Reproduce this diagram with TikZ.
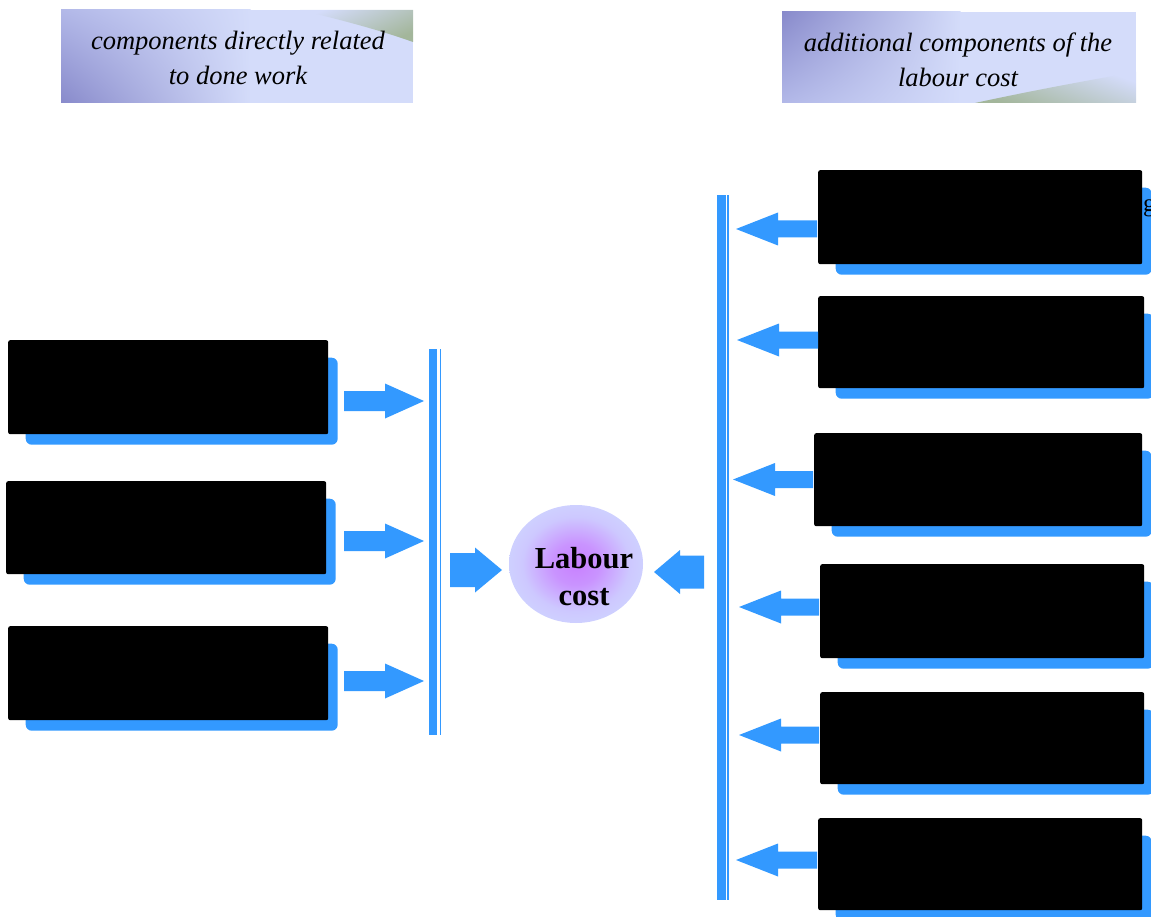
\documentclass[tikz,border=0pt]{standalone}
\usepackage{fontspec}
\setmainfont{Liberation Serif}
\usetikzlibrary{shapes.geometric,shadings}

\definecolor{flowblue}{RGB}{51,153,255}
\definecolor{hdark}{RGB}{136,138,203}
\definecolor{hmid}{RGB}{178,184,232}
\definecolor{hlight}{RGB}{212,220,250}
\definecolor{hgreen}{RGB}{163,182,155}
\definecolor{coreviolet}{RGB}{200,128,255}
\definecolor{rimlavender}{RGB}{206,208,255}

\pgfdeclareradialshading{coreglow}{\pgfpoint{0bp}{0bp}}{%
  color(0bp)=(coreviolet); color(9bp)=(coreviolet!75!rimlavender);
  color(20bp)=(rimlavender!90!coreviolet); color(25bp)=(rimlavender); color(50bp)=(rimlavender)}

% block arrow: tip x, y, direction (1 = right, -1 = left), head length, head half width, shaft length, shaft half width
\newcommand{\blockarrow}[7]{%
  \fill[flowblue] (#1,#2) -- ++({-(#3)*(#4)},{-(#5)}) -- ++(0,{(#5)-(#7)})
    -- ++({-(#3)*(#6)},0) -- ++(0,{2*(#7)}) -- ++({(#3)*(#6)},0)
    -- ++(0,{(#5)-(#7)}) -- cycle;}

% black panel with its blue offset backing
\newcommand{\panel}[5]{%
  \node[panelback, minimum width={#4-8}, minimum height={#5-7}] (#1b) at ({#2+17.5},{#3+17.5}) {};
  \node[panelbox, minimum width=#4, minimum height=#5] (#1) at (#2,#3) {};}

\begin{document}
\begin{tikzpicture}[x=1pt,y=-1pt,
  panelbox/.style={fill=black, rounded corners=2pt, anchor=north west, inner sep=0pt, draw=none},
  panelback/.style={fill=flowblue, rounded corners=6pt, anchor=north west, inner sep=0pt, draw=none},
  barthick/.style={fill=flowblue, anchor=north west, inner sep=0pt, minimum width=8pt},
  barthin/.style={fill=flowblue, anchor=north west, inner sep=0pt, minimum width=1.7pt},
  headertext/.style={font=\fontsize{26.5}{35.5}\selectfont\itshape, align=center, inner sep=0pt},
]
\useasboundingbox (0,0) rectangle (1151,917);

% left header banner: dark toward the lower left, green tint at the upper right
\fill[hlight] (250,10) rectangle (413,103);
\shade[upper left=hmid, lower left=hdark, upper right=hlight, lower right=hlight]
  (61,10) rectangle (250.5,103);
\shade[left color=hlight, right color=hgreen, shading angle=25]
  (300,10) .. controls (350,22) and (385,32) .. (413,42) -- (413,10) -- cycle;
\node[headertext] (hleft) at (238,58) {components directly related\\to done work};

% right header banner: dark toward the upper left, green tint at the lower right
\fill[hlight] (960,12) rectangle (1136,103);
\shade[upper left=hdark, lower left=hmid, upper right=hlight, lower right=hlight]
  (782,12) rectangle (960.5,103);
\shade[left color=hlight, right color=hgreen, shading angle=-20]
  (975,103) .. controls (1035,90) and (1090,80) .. (1136,72) -- (1136,103) -- cycle;
\node[headertext] (hright) at (958,60) {additional components of the\\labour cost};

% left column panels
\panel{l1}{8}{340}{320}{94}
\panel{l2}{6}{481}{320}{93}
\panel{l3}{8}{626}{320}{94}

% right column panels
\panel{r1}{818}{170}{324}{94}
\panel{r2}{818}{296}{326}{92}
\panel{r3}{814}{433}{328}{93}
\panel{r4}{820}{564}{324}{94}
\panel{r5}{820}{692}{324}{92}
\panel{r6}{818}{818}{324}{92}

\node[anchor=base west, inner sep=0pt, font=\fontsize{25}{30}\selectfont] (gl) at (1143,212) {g};

% collecting bars
\node[barthick, minimum height=386pt] (lbar) at (429,349) {};
\node[barthin, minimum height=386pt] (lbarthin) at (439.3,349) {};
\node[barthick, minimum height=705pt, minimum width=8.5pt] (rbar) at (717,195) {};
\node[barthin, minimum height=705pt] (rbarthin) at (726.8,195) {};

% arrows into the left bar
\blockarrow{424}{401}{1}{39}{17.5}{41}{10}
\blockarrow{424}{541}{1}{39}{17.5}{41}{10}
\blockarrow{424}{681}{1}{39}{17.5}{41}{10}

% arrows out of the right panels
\blockarrow{736}{229}{-1}{42}{16.5}{39}{8.5}
\blockarrow{737}{340}{-1}{42}{16.5}{39}{8.5}
\blockarrow{733}{479.5}{-1}{42}{16.5}{38}{8.5}
\blockarrow{739}{607}{-1}{42}{16.5}{38}{8.5}
\blockarrow{739}{735}{-1}{42}{16.5}{38}{8.5}
\blockarrow{736}{860}{-1}{42}{16.5}{39}{8.5}

% central node and its two feeding arrows
\node[ellipse, minimum width=134pt, minimum height=118pt, inner sep=0pt,
      shading=coreglow] (lc) at (576,564) {};
\node[font=\fontsize{30.5}{37}\selectfont\bfseries, align=center, inner sep=0pt] (lctext) at (584,577) {Labour\\cost};
\blockarrow{502}{570}{1}{27}{22.5}{25}{17}
\blockarrow{654}{572}{-1}{26}{22}{24}{16.5}
\end{tikzpicture}
\end{document}
